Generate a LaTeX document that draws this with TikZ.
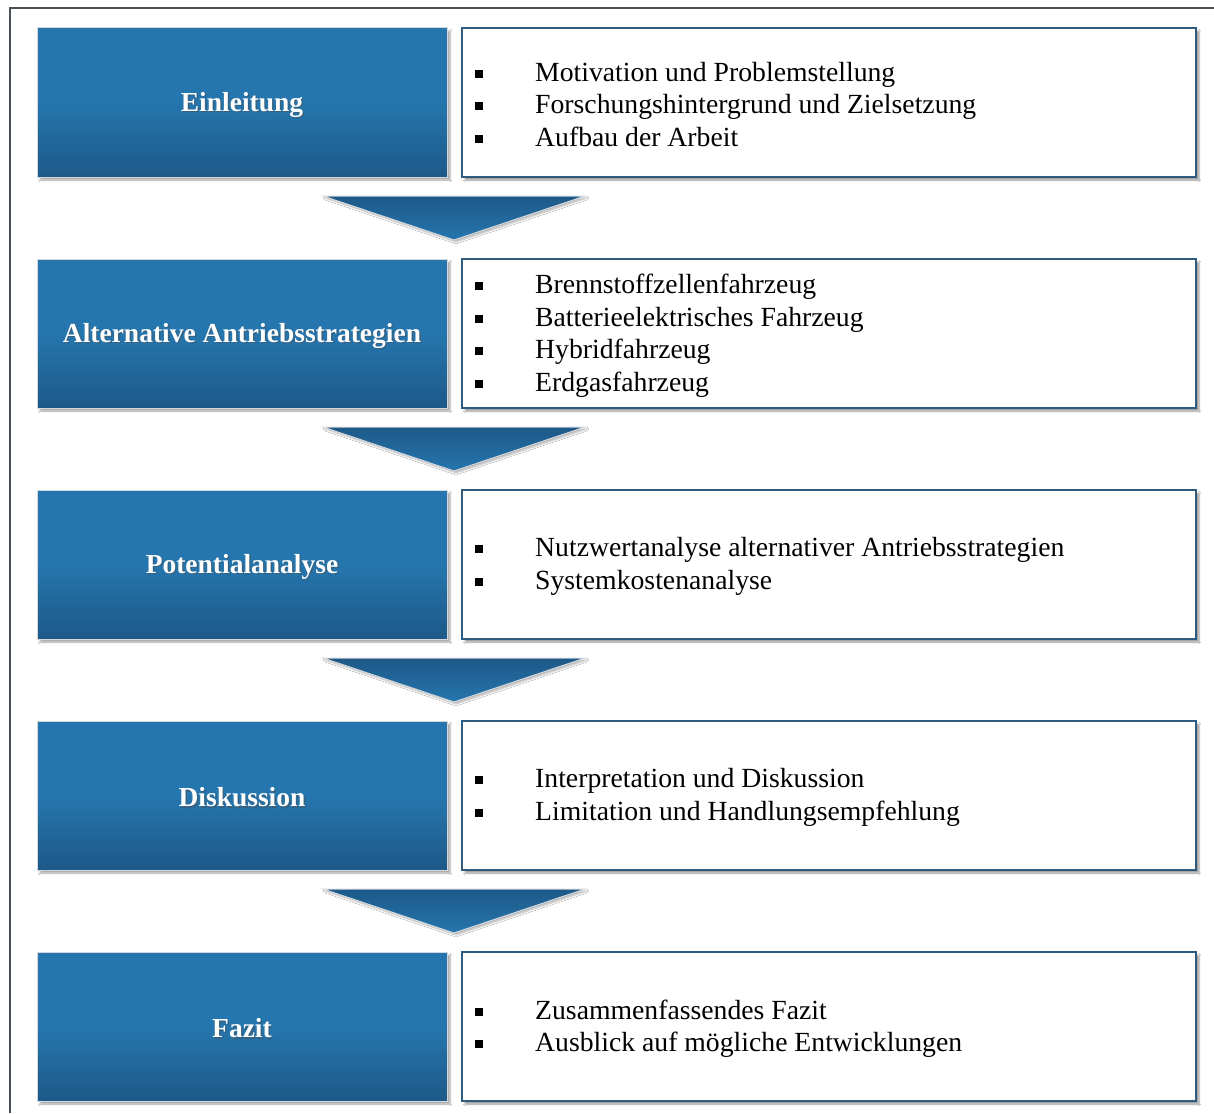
\documentclass[tikz,border=0pt]{standalone}
\usepackage{fontspec}
\setmainfont{Liberation Serif}
\usetikzlibrary{shadows.blur}
\definecolor{boxtop}{HTML}{2576AE}
\definecolor{boxbot}{HTML}{1D5988}
\definecolor{boxedge}{HTML}{D4D8DC}
\definecolor{listedge}{HTML}{2F5B80}
\definecolor{framecol}{HTML}{4A5058}
\newcommand{\bul}{\makebox[60pt][l]{\raisebox{3.5pt}{\rule{8pt}{8pt}}}}
\begin{document}
\begin{tikzpicture}[x=1pt,y=-1pt,
  titlebox/.style={rectangle, minimum width=410pt, minimum height=149pt, inner sep=0pt,
    draw=boxedge, line width=1pt, top color=boxtop, bottom color=boxbot, middle color=boxtop,
    blur shadow={shadow xshift=3pt, shadow yshift=-3pt, shadow blur steps=6, shadow opacity=35}},
  titletext/.style={text=white, font=\fontsize{27.5}{32}\selectfont\bfseries, inner sep=0pt},
  titleshade/.style={text=black!70, opacity=0.45, font=\fontsize{27.5}{32}\selectfont\bfseries, inner sep=0pt},
  listbox/.style={rectangle, minimum width=734pt, minimum height=149pt, inner sep=0pt,
    draw=listedge, line width=1.5pt, fill=white,
    blur shadow={shadow xshift=3pt, shadow yshift=-3pt, shadow blur steps=6, shadow opacity=40}},
  listtext/.style={anchor=west, align=left, inner sep=0pt, font=\fontsize{27.7}{32.5}\selectfont},
  stepdown/.style={draw=boxedge, line width=1pt, top color=boxbot, bottom color=boxtop,
    blur shadow={shadow xshift=2pt, shadow yshift=-2pt, shadow blur steps=5, shadow opacity=30}}
]
\useasboundingbox (0,0) rectangle (1214,1113);
\fill[white] (0,0) rectangle (1214,1113);
% outer frame (left and top edges)
\draw[framecol, line width=2pt] (10,1113) -- (10,8) -- (1214,8);

% chevrons between the rows
\foreach \t in {196,427,658,889}{
  \path[stepdown] (323,\t) -- (585,\t) -- (454,\t+44) -- cycle;
}

% rows
\foreach \n/\y/\title in {a/102.5/Einleitung, b/333.5/Alternative Antriebsstrategien,
  c/564.5/Potentialanalyse, d/795.5/Diskussion, e/1026.5/Fazit}{
  \node[titlebox] (t\n) at (242,\y) {};
  \node[titleshade] (s\n) at (243.5,\y+3.5) {\title};
  \node[titletext] (h\n) at (242,\y+2) {\title};
  \node[listbox] (l\n) at (829,\y) {};
}

\node[listtext] (xa) at (475,104.5) {\bul Motivation und Problemstellung\\ \bul Forschungshintergrund und Zielsetzung\\ \bul Aufbau der Arbeit};
\node[listtext] (xb) at (475,335.5) {\bul Brennstoffzellenfahrzeug\\ \bul Batterieelektrisches Fahrzeug\\ \bul Hybridfahrzeug\\ \bul Erdgasfahrzeug};
\node[listtext] (xc) at (475,566.5) {\bul Nutzwertanalyse alternativer Antriebsstrategien\\ \bul Systemkostenanalyse};
\node[listtext] (xd) at (475,797.5) {\bul Interpretation und Diskussion\\ \bul Limitation und Handlungsempfehlung};
\node[listtext] (xe) at (475,1028.5) {\bul Zusammenfassendes Fazit\\ \bul Ausblick auf mögliche Entwicklungen};
\end{tikzpicture}
\end{document}
